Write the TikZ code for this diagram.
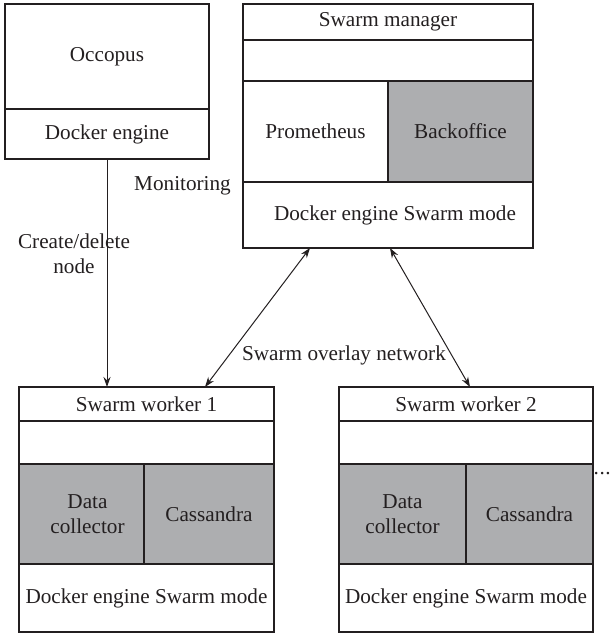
\documentclass[tikz,border=0pt]{standalone}
\usepackage{fontspec}
\setmainfont{Liberation Serif}
\usetikzlibrary{arrows.meta,calc}
\definecolor{boxgray}{RGB}{173,174,176}
\definecolor{inkc}{RGB}{35,31,32}
\begin{document}
\begin{tikzpicture}[x=1bp,y=-1bp,
  every node/.style={font=\fontsize{21.2bp}{25bp}\selectfont, text=inkc},
  cell/.style={draw=inkc, line width=1.2bp, inner sep=0pt, outer sep=0pt, align=center},
  shaded/.style={cell, fill=boxgray},
  conn/.style={draw=inkc, line width=1bp, -{Stealth[length=10bp,width=7bp]}},
  biconn/.style={draw=inkc, line width=1bp, {Stealth[length=10bp,width=7bp]}-{Stealth[length=10bp,width=7bp]}},
  lbl/.style={inner sep=0pt, align=center}]
\useasboundingbox (0,0) rectangle (612,633);

% Occopus
\node[cell, minimum width=204bp, minimum height=105bp] (occ) at (107,56.5) {Occopus};
\node[cell, minimum width=204bp, minimum height=50bp] (occde) at (107,134) {Docker engine};

% Swarm manager
\node[cell, minimum width=290bp, minimum height=36bp] (mgrt) at (388,22) {Swarm manager};
\node[cell, minimum width=290bp, minimum height=41bp] (mgre) at (388,60.5) {};
\node[cell, minimum width=145bp, minimum height=101bp] (prom) at (315.5,131.5) {Prometheus};
\node[shaded, minimum width=145bp, minimum height=101bp] (back) at (460.5,131.5) {Backoffice};
\node[cell, minimum width=290bp, minimum height=66bp] (mgrde) at (388,215) {\hspace{14bp}Docker engine Swarm mode};

% Swarm worker 1
\node[cell, minimum width=255bp, minimum height=34bp] (w1t) at (146.5,404) {Swarm worker 1};
\node[cell, minimum width=255bp, minimum height=43bp] (w1e) at (146.5,442.5) {};
\node[shaded, minimum width=125bp, minimum height=100bp] (w1dc) at (81.5,514) {\hspace{12bp}Data\\\hspace{12bp}collector};
\node[shaded, minimum width=130bp, minimum height=100bp] (w1c) at (209,514) {Cassandra};
\node[cell, minimum width=255bp, minimum height=68bp] (w1de) at (146.5,598) {Docker engine Swarm mode};

% Swarm worker 2
\node[cell, minimum width=254bp, minimum height=34bp] (w2t) at (466,404) {Swarm worker 2};
\node[cell, minimum width=254bp, minimum height=43bp] (w2e) at (466,442.5) {};
\node[shaded, minimum width=127bp, minimum height=100bp] (w2dc) at (402.5,514) {Data\\collector};
\node[shaded, minimum width=127bp, minimum height=100bp] (w2c) at (529.5,514) {Cassandra};
\node[cell, minimum width=254bp, minimum height=68bp] (w2de) at (466,598) {Docker engine Swarm mode};

% labels
\node[lbl, anchor=base east] (mon) at (231,190) {Monitoring};
\node[lbl, anchor=base] (cdn) at (74,273) {Create/delete\\node};
\node[lbl, anchor=base] (son) at (344,360) {Swarm overlay network};
\node[lbl, anchor=base east] (dots) at (611,474) {.\kern0.6bp.\kern0.6bp.};

% connectors
\draw[conn] (occde.south) -- (occde.south |- w1t.north);
\coordinate (m1) at ($(mgrde.south west)+(67,0)$);
\coordinate (m2) at ($(mgrde.south west)+(147,0)$);
\coordinate (t1) at ($(w1t.north west)+(186,0)$);
\coordinate (t2) at ($(w2t.north west)+(131,0)$);
\draw[biconn] (m1) -- (t1);
\draw[biconn] (m2) -- (t2);
\end{tikzpicture}
\end{document}
